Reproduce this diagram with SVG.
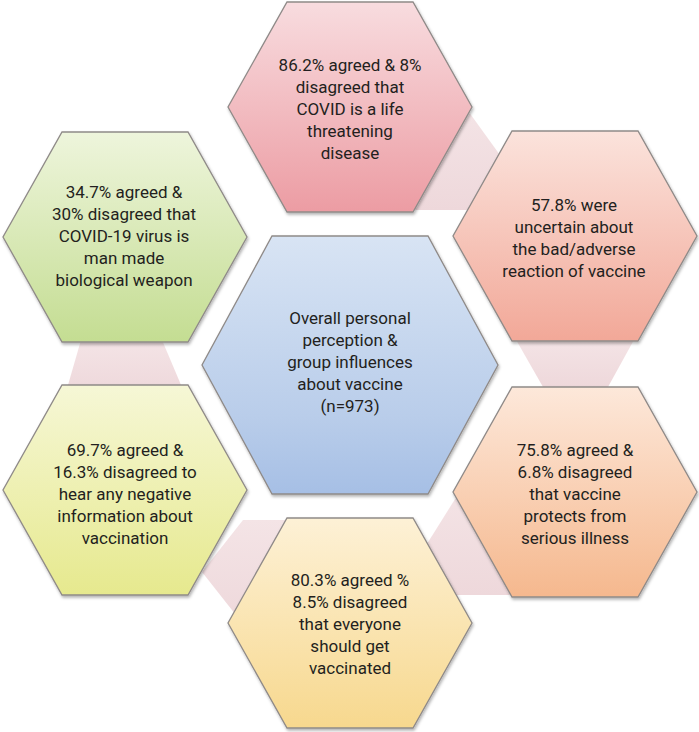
<svg xmlns="http://www.w3.org/2000/svg" width="699" height="732" viewBox="0 0 699 732">
<defs>
<linearGradient id="gPink" x1="0" y1="0" x2="0" y2="1"><stop offset="0" stop-color="#f8dcdf"/><stop offset="1" stop-color="#ec9ca3"/></linearGradient>
<linearGradient id="gSalmon" x1="0" y1="0" x2="0" y2="1"><stop offset="0" stop-color="#fbe3dc"/><stop offset="1" stop-color="#f2a898"/></linearGradient>
<linearGradient id="gPeach" x1="0" y1="0" x2="0" y2="1"><stop offset="0" stop-color="#fde8da"/><stop offset="1" stop-color="#f5b88e"/></linearGradient>
<linearGradient id="gYellow" x1="0" y1="0" x2="0" y2="1"><stop offset="0" stop-color="#fdf1d6"/><stop offset="1" stop-color="#f7d88e"/></linearGradient>
<linearGradient id="gLime" x1="0" y1="0" x2="0" y2="1"><stop offset="0" stop-color="#f6f7d6"/><stop offset="1" stop-color="#e6e98e"/></linearGradient>
<linearGradient id="gGreen" x1="0" y1="0" x2="0" y2="1"><stop offset="0" stop-color="#eef5dc"/><stop offset="1" stop-color="#c4dd92"/></linearGradient>
<linearGradient id="gBlue" x1="0" y1="0" x2="0" y2="1"><stop offset="0" stop-color="#d8e4f4"/><stop offset="0.7" stop-color="#b9cdea"/><stop offset="1" stop-color="#a6bfe5"/></linearGradient>
<linearGradient id="gConn" x1="0" y1="0" x2="0" y2="1"><stop offset="0" stop-color="#f4e4e6"/><stop offset="1" stop-color="#eed8db"/></linearGradient>
<filter id="sh" x="-10%" y="-10%" width="120%" height="125%"><feDropShadow dx="1" dy="2" stdDeviation="1.5" flood-color="#000" flood-opacity="0.3"/></filter>
</defs>
<style>
.hex{stroke:#8f8a88;stroke-width:1.3;filter:url(#sh)}
.conn{fill:url(#gConn);stroke:none}
text{font-family:Roboto,"Liberation Sans",Arial,sans-serif;font-size:17px;fill:#231f20;text-anchor:middle}
</style>
<g id="connectors">
<polygon class="conn" points="466,108 505,162 490,210 410,210"/>
<polygon class="conn" points="515,338 635,338 608,387 543,387"/>
<polygon class="conn" points="462,488 420,555 445,595 530,595 520,488"/>
<polygon class="conn" points="243,520 300,520 300,624 243,624 202,572"/>
<polygon class="conn" points="81,340 162,340 184,392 66,392"/>
</g>
<g id="node-top">
<polygon class="hex" fill="url(#gPink)" points="287,2 413,2 472,107 413,212 287,212 228,107"/>
<text x="350" y="71">86.2% agreed &amp; 8%</text>
<text x="350" y="93">disagreed that</text>
<text x="350" y="115">COVID is a life</text>
<text x="350" y="137">threatening</text>
<text x="350" y="159">disease</text>
</g>
<g id="node-top-right">
<polygon class="hex" fill="url(#gSalmon)" points="512,131 638,131 697,236 638,341 512,341 453,236"/>
<text x="574" y="211">57.8% were</text>
<text x="574" y="233">uncertain about</text>
<text x="574" y="255">the bad/adverse</text>
<text x="574" y="277">reaction of vaccine</text>
</g>
<g id="node-bottom-right">
<polygon class="hex" fill="url(#gPeach)" points="512,387 638,387 697,492 638,597 512,597 453,492"/>
<text x="575" y="456">75.8% agreed &amp;</text>
<text x="575" y="478">6.8% disagreed</text>
<text x="575" y="500">that vaccine</text>
<text x="575" y="522">protects from</text>
<text x="575" y="544">serious illness</text>
</g>
<g id="node-bottom">
<polygon class="hex" fill="url(#gYellow)" points="287,518 413,518 472,623 413,728 287,728 228,623"/>
<text x="350" y="586">80.3% agreed %</text>
<text x="350" y="608">8.5% disagreed</text>
<text x="350" y="630">that everyone</text>
<text x="350" y="652">should get</text>
<text x="350" y="674">vaccinated</text>
</g>
<g id="node-bottom-left">
<polygon class="hex" fill="url(#gLime)" points="62,385 188,385 247,490 188,595 62,595 3,490"/>
<text x="125" y="456">69.7% agreed &amp;</text>
<text x="125" y="478">16.3% disagreed to</text>
<text x="125" y="500">hear any negative</text>
<text x="125" y="522">information about</text>
<text x="125" y="544">vaccination</text>
</g>
<g id="node-top-left">
<polygon class="hex" fill="url(#gGreen)" points="62,132 188,132 247,237 188,342 62,342 3,237"/>
<text x="124" y="198">34.7% agreed &amp;</text>
<text x="124" y="220">30% disagreed that</text>
<text x="124" y="242">COVID-19 virus is</text>
<text x="124" y="264">man made</text>
<text x="124" y="286">biological weapon</text>
</g>
<g id="node-center">
<polygon class="hex" fill="url(#gBlue)" points="272,236 428,236 498,365 428,494 272,494 202,365"/>
<text x="350" y="324">Overall personal</text>
<text x="350" y="346">perception &amp;</text>
<text x="350" y="368">group influences</text>
<text x="350" y="390">about vaccine</text>
<text x="350" y="412">(n=973)</text>
</g>
</svg>
